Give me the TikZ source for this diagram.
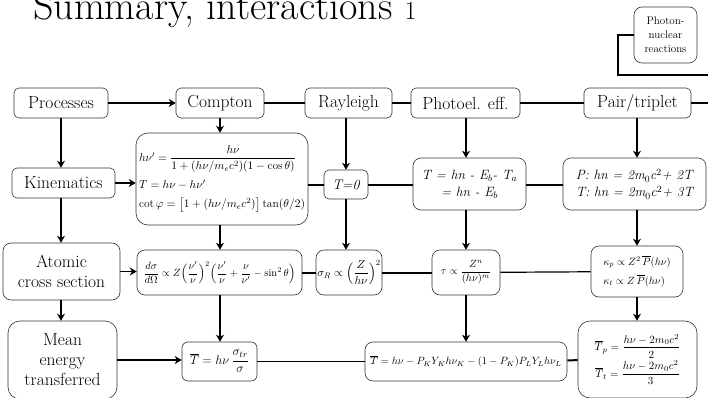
\RequirePackage{fix-cm}
\documentclass[tikz,border=0pt]{standalone}
\usepackage{amsmath}
\usepackage{fontspec}
\usetikzlibrary{arrows.meta}
\begin{document}
\begin{tikzpicture}[x=1pt, y=-1pt,
  box/.style={draw=black!80, line width=0.6pt, rounded corners=#1, align=center,
              inner sep=1pt, font=\fontsize{17.5}{20}\selectfont},
  box/.default=5pt,
  eq/.style={box=#1, font=\fontsize{10.5}{13}\selectfont},
  eq/.default=5pt,
  arr/.style={-{Stealth[length=7pt,width=8pt]}, line width=1.6pt},
  lnk/.style={line width=2pt},
  thin/.style={line width=1.2pt}
]
  \useasboundingbox (0,0) rectangle (708,398);
  % title
  \node[anchor=base west, inner sep=0pt] (title) at (33,20)
    {\fontsize{40}{44}\selectfont Summary, interactions \fontsize{26}{28}\selectfont 1};
  % processes
  \node[box, minimum width=94pt,  minimum height=30pt] (proc)     at (61,103)    {Processes};
  \node[box, minimum width=88pt,  minimum height=30pt] (compton)  at (220,103)   {Compton};
  \node[box, minimum width=87pt,  minimum height=30pt] (rayleigh) at (348.5,103) {Rayleigh};
  \node[box, minimum width=109pt, minimum height=30pt] (photo)    at (465.5,103) {Photoel. eff.};
  \node[box, minimum width=107pt, minimum height=30pt] (pair)     at (637.5,103) {Pair/triplet};
  \node[box=8pt, minimum width=63pt, minimum height=56pt,
        font=\fontsize{11}{14}\selectfont] (nuclear) at (665.5,35) {Photon-\\nuclear\\reactions};
  \coordinate (nucout)  at (708,75);
  \coordinate (pairout) at (708,103);
  % kinematics
  \node[box, minimum width=103pt, minimum height=30pt] (kin) at (63.5,183) {Kinematics};
  \node[eq=12pt, minimum width=172pt, minimum height=92pt, align=left,
        font=\fontsize{11.5}{17}\selectfont] (compK) at (222,179)
    {$h\nu'=\dfrac{h\nu}{1+(h\nu/m_ec^2)(1-\cos\theta)}$\\[7pt]
     $T=h\nu-h\nu'$\\[2pt]
     $\cot\varphi=\bigl[1+(h\nu/m_ec^2)\bigr]\tan(\theta/2)$};
  \node[box, minimum width=44pt, minimum height=29pt, font=\fontsize{14}{16}\selectfont\itshape]
    (rayK) at (346,184.5) {T=0};
  \node[box=8pt, minimum width=113pt, minimum height=52pt, font=\fontsize{13.5}{17}\selectfont\itshape]
    (photoK) at (469.5,184) {T = hn - E$_b$- T$_a$\\= hn - E$_b$};
  \node[box=8pt, minimum width=143pt, minimum height=52pt, align=left,
        font=\fontsize{13.5}{17}\selectfont\itshape]
    (pairK) at (634.5,184) {P: hn = 2m$_0$c$^2$+ 2T\\T: hn = 2m$_0$c$^2$+ 3T};
  % atomic cross section
  \node[box=8pt, minimum width=117pt, minimum height=57pt] (atomic) at (61.5,271.5)
    {Atomic\\cross section};
  \node[eq=8pt, minimum width=165pt, minimum height=45pt] (compX) at (219.5,272.5)
    {$\dfrac{d\sigma}{d\Omega}\propto Z\Bigl(\dfrac{\nu'}{\nu}\Bigr)^{2}
      \Bigl(\dfrac{\nu'}{\nu}+\dfrac{\nu}{\nu'}-\sin^2\theta\Bigr)$};
  \node[eq=8pt, minimum width=66pt, minimum height=45pt, font=\fontsize{11.5}{13}\selectfont]
    (rayX) at (349,272.5) {$\sigma_R\propto\Bigl(\dfrac{Z}{h\nu}\Bigr)^{2}$};
  \node[eq=8pt, minimum width=68pt, minimum height=45pt] (photoX) at (466,272.5)
    {$\tau\propto\dfrac{Z^n}{(h\nu)^m}$};
  \node[eq=8pt, minimum width=92pt, minimum height=51pt, align=left] (pairX) at (637,271.5)
    {$\kappa_p\propto Z^2\,\overline{P}(h\nu)$\\[6pt]$\kappa_t\propto Z\,\overline{P}(h\nu)$};
  % mean energy transferred
  \node[box=12pt, minimum width=109pt, minimum height=78pt] (mean) at (62.5,360)
    {Mean\\energy\\transferred};
  \node[eq=6pt, minimum width=75pt, minimum height=39pt, font=\fontsize{12.5}{14}\selectfont]
    (compT) at (219.5,361.5) {$\overline{T}=h\nu\,\dfrac{\sigma_{tr}}{\sigma}$};
  \node[eq=8pt, minimum width=202pt, minimum height=39pt] (photoT) at (466,361.5)
    {$\overline{T}=h\nu-P_KY_Kh\nu_K-(1-P_K)P_LY_Lh\nu_L$};
  \node[eq=12pt, minimum width=119pt, minimum height=77pt, font=\fontsize{11}{13}\selectfont]
    (pairT) at (637.5,359.5)
    {$\overline{T}_p=\dfrac{h\nu-2m_0c^2}{2}$\\[2pt]$\overline{T}_t=\dfrac{h\nu-2m_0c^2}{3}$};
  % connectors
  \draw[arr] (proc) -- (compton);
  \draw[lnk] (compton) -- (rayleigh);
  \draw[thin] (rayleigh) -- (photo);
  \draw[lnk] (photo) -- (pair);
  \draw[lnk] (pair) -- (pairout);
  \draw[lnk] (nuclear.west) -- ++(-16,0) |- (nucout);
  \draw[arr] (proc.south) -- (proc.south |- kin.north);
  \draw[arr] (kin.south -| proc.south) -- (proc.south |- atomic.north);
  \draw[arr] (atomic.south -| proc.south) -- (proc.south |- mean.north);
  \draw[arr] (compton) -- (compton |- compK.north);
  \draw[arr] (compK.south -| compton) -- (compton |- compX.north);
  \draw[arr] (compX.south -| compton) -- (compton |- compT.north);
  \draw[arr] (rayleigh.south -| rayK) -- (rayK);
  \draw[arr] (rayK) -- (rayK |- rayX.north);
  \draw[arr] (photo.south -| photoX) -- (photoX |- photoK.north);
  \draw[arr] (photoK.south -| photoX) -- (photoX);
  \draw[arr] (photoX) -- (photoX |- photoT.north);
  \draw[arr] (pair.south -| pairX) -- (pairX |- pairK.north);
  \draw[arr] (pairK.south -| pairX) -- (pairX);
  \draw[arr] (pairX) -- (pairX |- pairT.north);
  \draw[arr] (kin) -- (compK.west |- kin);
  \draw[lnk] (compK.east |- rayK) -- (rayK);
  \draw[lnk] (rayK) -- (photoK.west |- rayK);
  \draw[lnk] (photoK.east |- rayK) -- (pairK.west |- rayK);
  \draw[arr] (atomic) -- (compX.west |- atomic);
  \draw[lnk] (compX) -- (rayX);
  \draw[lnk] (rayX) -- (photoX);
  \draw[thin] (photoX) -- (pairX);
  \draw[arr] (mean) -- (compT.west |- mean);
  \draw[thin] (compT) -- (photoT);
  \draw[lnk] (photoT) -- (pairT);
\end{tikzpicture}
\end{document}
